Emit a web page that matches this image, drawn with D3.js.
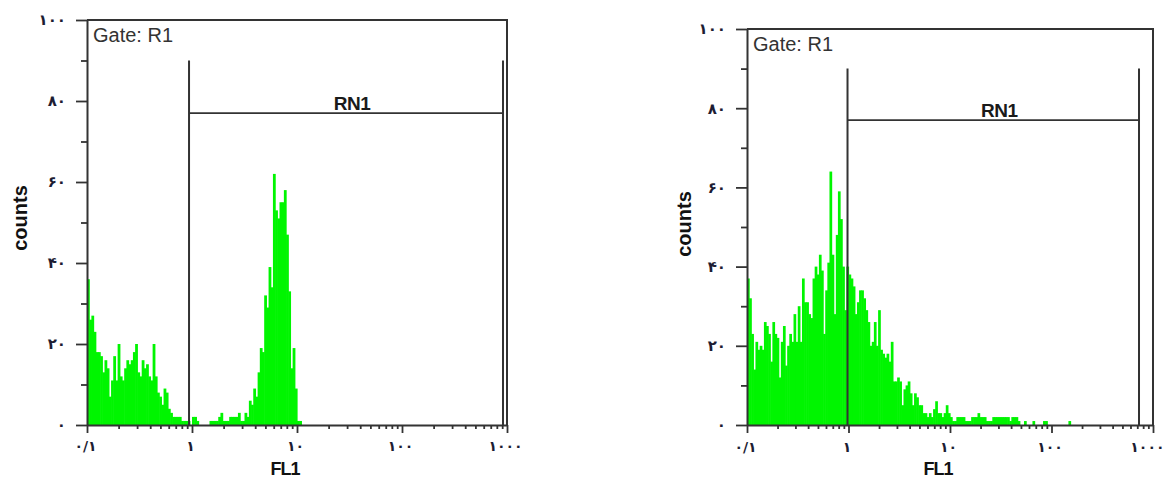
<!DOCTYPE html>
<html lang="fa">
<head>
<meta charset="UTF-8">
<title>FL1 histograms</title>
<style>
    body { margin: 0; background: #fff; }
    svg { display: block; }
</style>
</head>
<body>
<main></main>
<script src="https://cdn.jsdelivr.net/npm/d3@7/dist/d3.min.js"></script>
<script>
    // channels are log spaced: 48 per decade, starting at 0.1
    var channelsPerDecade = 48;

    var yTickValues = [0, 20, 40, 60, 80, 100];
    var yTickLabels = ['۰', '۲۰', '۴۰', '۶۰', '۸۰', '۱۰۰'];
    var xTickValues = [0.1, 1, 10, 100, 1000];
    var xTickLabels = ['۰/۱', '۱', '۱۰', '۱۰۰', '۱۰۰۰'];

    var gateTitle = 'Gate: R1';
    var gateName = 'RN1';
    var gateTop = 90;
    var gateBar = 77;
    var leftGate = [0.937, 916];
    var rightGate = [0.978, 728];

    // counts per channel
    var leftCounts = [36, 26, 27, 23, 18, 18, 17, 13, 16, 14, 7, 11, 17, 11, 20, 12, 11, 14, 16, 15,
        16, 18, 20, 13, 12, 16, 14, 15, 12, 11, 20, 12, 8, 7, 5, 9, 8, 4, 3, 2,
        2, 2, 2, 1, 1, 1, 1, 0, 2, 2, 1, 0, 0, 0, 0, 0, 1, 1, 1, 1,
        2, 3, 1, 1, 1, 2, 2, 2, 2, 3, 1, 1, 3, 2, 6, 5, 9, 7, 13, 19,
        18, 32, 29, 39, 34, 62, 53, 51, 55, 55, 58, 47, 33, 14, 19, 9, 1, 1];

    var rightCounts = [37, 32, 23, 14, 21, 19, 20, 19, 26, 25, 23, 16, 26, 23, 22, 12, 21, 25, 15, 20,
        23, 21, 28, 21, 30, 21, 37, 31, 31, 28, 27, 37, 40, 38, 43, 39, 23, 34, 41, 64,
        43, 28, 48, 59, 52, 40, 29, 40, 38, 37, 35, 28, 31, 34, 34, 32, 29, 26, 20, 21,
        26, 20, 29, 19, 18, 17, 18, 16, 21, 11, 11, 12, 11, 5, 9, 10, 11, 8, 5, 8,
        7, 5, 5, 3, 3, 2, 3, 2, 4, 6, 3, 3, 2, 3, 5, 3, 2, 1, 1, 2,
        2, 2, 2, 1, 1, 1, 2, 2, 2, 3, 2, 2, 2, 1, 1, 1, 2, 2, 2, 2,
        2, 2, 2, 2, 1, 2, 2, 2, 1, 0, 0, 1, 0, 0, 0, 1, 0, 0, 0, 0,
        1, 1, 0, 0, 0, 0, 0, 0, 0, 0, 0, 0, 1];

    var panels = [
        { counts: leftCounts, gate: leftGate, x0: 87, x1: 507, top: 20, base: 425,
          countsX: 20, countsY: 218, labelY: 447 },
        { counts: rightCounts, gate: rightGate, x0: 747, x1: 1153, top: 29, base: 425,
          countsX: 684, countsY: 224, labelY: 448 }
    ];

    var lineColor = '#333';
    var barColor = '#00f500';
    var pageWidth = 1165;

    var svg = d3.select('main')
        .append('svg')
        .attr('width', pageWidth)
        .attr('height', 479);

    panels.forEach(drawPanel);

    function drawPanel(p) {
        var x = d3.scaleLog().domain([0.1, 1000]).range([p.x0, p.x1]);
        var y = d3.scaleLinear().domain([0, 100]).range([p.base, p.top]);
        var edge = i => Math.pow(10, -1 + i / channelsPerDecade);

        var g = svg.append('g');

        g.append('g')
            .selectAll('rect')
            .data(p.counts)
            .enter()
            .append('rect')
            .attr('x', (d, i) => x(edge(i)))
            .attr('width', (d, i) => x(edge(i + 1)) - x(edge(i)) + 0.6)
            .attr('y', d => y(d))
            .attr('height', d => y(0) - y(d))
            .attr('fill', barColor);

        // frame top and right
        g.append('path')
            .attr('d', `M${p.x0},${y(100)}H${p.x1}V${y(0)}`)
            .attr('fill', 'none')
            .attr('stroke', lineColor)
            .attr('stroke-width', 2);

        // y axis, majors with labels then minors
        var yAxis = g.append('g')
            .attr('transform', `translate(${p.x0},0)`)
            .call(d3.axisLeft(y).tickValues(yTickValues).tickSize(11).tickSizeOuter(0)
                .tickFormat((d, i) => yTickLabels[i]));
        g.append('g')
            .attr('transform', `translate(${p.x0},0)`)
            .call(d3.axisLeft(y).tickValues([10, 30, 50, 70, 90]).tickSize(6).tickFormat(''))
            .select('.domain').remove();

        var minors = [];
        [0.1, 1, 10, 100].forEach(dec => d3.range(2, 10).forEach(k => minors.push(dec * k)));

        var xAxis = g.append('g')
            .attr('transform', `translate(0,${p.base})`)
            .call(d3.axisBottom(x).tickValues(xTickValues).tickSize(8).tickSizeOuter(0)
                .tickFormat((d, i) => xTickLabels[i]));
        g.append('g')
            .attr('transform', `translate(0,${p.base})`)
            .call(d3.axisBottom(x).tickValues(minors).tickSize(4).tickFormat(''))
            .select('.domain').remove();

        g.selectAll('.domain').attr('stroke', lineColor).attr('stroke-width', 2);
        g.selectAll('.tick line').attr('stroke', lineColor).attr('stroke-width', 1.8);

        yAxis.selectAll('.tick text')
            .attr('x', -21)
            .style('font-family', '"DejaVu Sans", sans-serif')
            .style('font-weight', 'bold')
            .style('font-size', '15px')
            .attr('fill', '#1d1d33');
        xAxis.selectAll('.tick text')
            .attr('y', 0)
            .attr('dy', 0)
            .attr('transform', `translate(-2,${p.labelY - p.base})`)
            .attr('dominant-baseline', 'middle')
            .style('font-family', '"DejaVu Sans", sans-serif')
            .style('font-weight', 'bold')
            .style('font-size', '14px')
            .attr('fill', '#1d1d33');

        // keep the last label inside the page when the axis ends near the edge
        xAxis.selectAll('.tick').filter(d => d === 1000 && p.x1 + 20 > pageWidth)
            .select('text')
            .attr('text-anchor', 'end')
            .attr('transform', `translate(${pageWidth - 1 - p.x1},${p.labelY - p.base})`);

        // gate marker
        var gx0 = x(p.gate[0]), gx1 = x(p.gate[1]);
        g.append('path')
            .attr('d', `M${gx0},${y(gateTop)}V${y(0)}M${gx1},${y(gateTop)}V${y(0)}`)
            .attr('stroke', lineColor)
            .attr('stroke-width', 2);
        g.append('line')
            .attr('x1', gx0).attr('x2', gx1)
            .attr('y1', y(gateBar)).attr('y2', y(gateBar))
            .attr('stroke', lineColor)
            .attr('stroke-width', 1.6);
        g.append('text')
            .attr('x', (gx0 + gx1) / 2 + 6)
            .attr('y', y(gateBar) - 3)
            .attr('text-anchor', 'middle')
            .style('font-family', '"Liberation Sans", Arial, sans-serif')
            .style('font-weight', 'bold')
            .style('font-size', '19px')
            .style('letter-spacing', '-0.5px')
            .attr('fill', '#1a1a1a')
            .text(gateName);

        g.append('text')
            .attr('x', p.x0 + 6)
            .attr('y', y(100) + 22)
            .style('font-family', '"Liberation Sans", Arial, sans-serif')
            .style('font-size', '20px')
            .attr('fill', '#333')
            .text(gateTitle);

        g.append('text')
            .attr('transform', `translate(${p.countsX + 7},${p.countsY}) rotate(-90)`)
            .attr('text-anchor', 'middle')
            .style('font-family', '"Liberation Sans", Arial, sans-serif')
            .style('font-weight', 'bold')
            .style('font-size', '20px')
            .attr('fill', '#111')
            .text('counts');

        g.append('text')
            .attr('x', (p.x0 + p.x1) / 2 - 12)
            .attr('y', 475)
            .attr('text-anchor', 'middle')
            .style('font-family', '"Liberation Sans", Arial, sans-serif')
            .style('font-weight', 'bold')
            .style('font-size', '18px')
            .style('letter-spacing', '-1px')
            .attr('fill', '#111')
            .text('FL1');
    }
</script>
</body>
</html>
